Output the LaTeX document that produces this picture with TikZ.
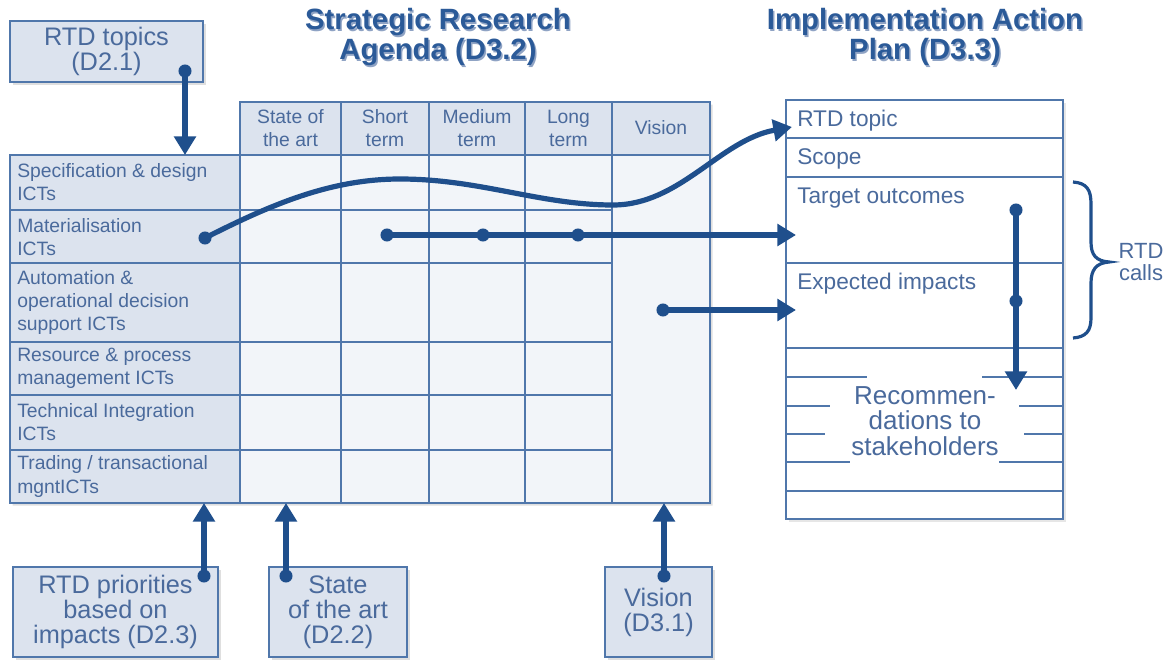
\documentclass[tikz,border=0pt]{standalone}
\usepackage{fontspec}
\setmainfont{Liberation Sans}
\usetikzlibrary{arrows.meta,shadows}
\definecolor{framec}{HTML}{5077AB}
\definecolor{headfill}{HTML}{DCE3EE}
\definecolor{cellfill}{HTML}{F2F5F9}
\definecolor{txtc}{HTML}{4A6A9C}
\definecolor{arrowc}{HTML}{1F4F8C}
\definecolor{titlec}{HTML}{2B5A98}
\definecolor{shadec}{HTML}{8FA3C4}
\begin{document}
\begin{tikzpicture}[x=0.75pt,y=-0.75pt,
  grid/.style={draw=framec,line width=1.6pt},
  plan/.style={draw=framec,line width=2pt},
  lbl/.style={text=txtc,font=\fontsize{14.5}{17.3}\selectfont,align=left,inner sep=0pt},
  hdr/.style={text=txtc,font=\fontsize{14.5}{17.3}\selectfont,align=center,inner sep=0pt},
  plantxt/.style={text=txtc,font=\fontsize{17}{19}\selectfont,anchor=west,inner sep=0pt},
  rectxt/.style={text=txtc,font=\fontsize{19.5}{19}\selectfont,align=center,inner sep=0pt},
  srcbox/.style={draw=framec,line width=1.8pt,fill=headfill,text=txtc,
    font=\fontsize{19}{18.7}\selectfont,align=center,inner sep=0pt,
    drop shadow={opacity=0.25,shadow xshift=2pt,shadow yshift=-2pt}},
  titletxt/.style={font=\bfseries\fontsize{22}{22.5}\selectfont,align=center,inner sep=0pt},
  flow/.style={draw=arrowc,line width=3.9pt,-{Triangle[length=14pt,width=16pt]}},
  brace/.style={draw=arrowc,line width=2.4pt},
]
\useasboundingbox (0,0) rectangle (1168,660);

% ---------- titles ----------
\node[titletxt,text=shadec] (sraShade) at (439.5,38.5) {Strategic Research\\Agenda (D3.2)};
\node[titletxt,text=titlec] (sraTitle) at (438,37) {Strategic Research\\Agenda (D3.2)};
\node[titletxt,text=shadec] (iapShade) at (926.5,38.5) {Implementation Action\\Plan (D3.3)};
\node[titletxt,text=titlec] (iapTitle) at (925,37) {Implementation Action\\Plan (D3.3)};

% ---------- research agenda table ----------
\path[fill=cellfill,drop shadow={opacity=0.25,shadow xshift=2pt,shadow yshift=-2pt}]
  (10,155) -- (240,155) -- (240,102) -- (710,102) -- (710,503) -- (10,503) -- cycle;
\fill[headfill] (10,155) rectangle (240,503);
\fill[headfill] (240,102) rectangle (710,155);
\draw[grid] (10,155) -- (240,155) -- (240,102) -- (710,102) -- (710,503) -- (10,503) -- cycle;
\draw[grid] (240,155) -- (710,155);
\foreach \x in {240,341,429,525,612} \draw[grid] (\x,102) -- (\x,503);
\foreach \y in {210,263,342,395,450} \draw[grid] (10,\y) -- (612,\y);

\node[hdr] (hState) at (290.5,128) {State of\\the art};
\node[hdr] (hShort) at (385,128) {Short\\term};
\node[hdr] (hMedium) at (477,128) {Medium\\term};
\node[hdr] (hLong) at (568.5,128) {Long\\term};
\node[hdr] (hVision) at (661,128) {Vision};

\node[lbl,anchor=west] (r1) at (17,182.5) {Specification \& design\\ICTs};
\node[lbl,anchor=west] (r2) at (17,237) {Materialisation\\ICTs};
\node[lbl,anchor=west] (r3) at (17,302.5) {Automation \&\\operational decision\\support ICTs};
\node[lbl,anchor=west] (r4) at (17,368.5) {Resource \& process\\management ICTs};
\node[lbl,anchor=west] (r5) at (17,422.5) {Technical Integration\\ICTs};
\node[lbl,anchor=west] (r6) at (17,476.5) {Trading / transactional\\mgntICTs};

% ---------- implementation action plan ----------
\fill[white,drop shadow={opacity=0.2,shadow xshift=2pt,shadow yshift=-2pt}] (786,100) rectangle (1063,519);
\draw[plan] (786,100) rectangle (1063,519);
\foreach \y in {138,177,263,348,491} \draw[plan] (786,\y) -- (1063,\y);
\draw[plan] (786,377) -- (867,377) (982,377) -- (1063,377);
\draw[plan] (786,406) -- (830,406) (1019,406) -- (1063,406);
\draw[plan] (786,434) -- (825,434) (1024,434) -- (1063,434);
\draw[plan] (786,462) -- (850,462) (999,462) -- (1063,462);

\node[plantxt] (pTopic) at (797,121) {RTD topic};
\node[plantxt] (pScope) at (797,159) {Scope};
\node[plantxt] (pTarget) at (797,198) {Target outcomes};
\node[plantxt] (pImpact) at (797,284) {Expected impacts};
\node[rectxt] (pRec) at (925,421) {Recommen-\\dations to\\stakeholders};

\draw[brace] (1073,182) .. controls (1087,183) and (1091,190) .. (1091,204)
  -- (1091,242) .. controls (1091,255) and (1096,261) .. (1109,262)
  .. controls (1096,263) and (1091,270) .. (1091,283)
  -- (1091,318) .. controls (1091,331) and (1086,337) .. (1073,338);
\node[text=txtc,font=\fontsize{16.5}{16.5}\selectfont,align=center,inner sep=0pt] (calls) at (1141,262) {RTD\\calls};

% ---------- source deliverables ----------
\node[srcbox,minimum width=144.75pt,minimum height=45.75pt] (topics) at (106.5,51.5) {RTD topics\\(D2.1)};
\node[srcbox,minimum width=153.75pt,minimum height=67.5pt] (prio) at (115.5,612) {RTD priorities\\based on\\impacts (D2.3)};
\node[srcbox,minimum width=103.5pt,minimum height=67.5pt] (sota) at (338,612) {State\\of the art\\(D2.2)};
\node[srcbox,minimum width=80.25pt,minimum height=67.5pt] (vision) at (658.5,612) {Vision\\(D3.1)};

% ---------- connectors ----------
\coordinate (topicsDot) at (185,71);   \coordinate (tableTop) at (185,155);
\coordinate (prioDot) at (204,576);    \coordinate (prioIn) at (204,503);
\coordinate (sotaDot) at (286,576);    \coordinate (sotaIn) at (286,503);
\coordinate (visionDot) at (664,576);  \coordinate (visionIn) at (664,503);
\coordinate (matDot) at (205,238);     \coordinate (topicIn) at (792,127);
\coordinate (shortDot) at (387,235);   \coordinate (mediumDot) at (483,235);
\coordinate (longDot) at (578,235);    \coordinate (targetIn) at (796,235);
\coordinate (visCellDot) at (663,310); \coordinate (impactIn) at (796,310);
\coordinate (targetDot) at (1016,210); \coordinate (impactDot) at (1016,301);
\coordinate (recIn) at (1016,390);

\draw[flow] (topicsDot) -- (tableTop);
\draw[flow] (prioDot) -- (prioIn);
\draw[flow] (sotaDot) -- (sotaIn);
\draw[flow] (visionDot) -- (visionIn);
\draw[flow] (matDot) .. controls (270,205) and (330,179) .. (400,179)
  .. controls (480,179) and (540,205) .. (613,205)
  .. controls (680,205) and (720,140) .. (topicIn);
\draw[flow] (shortDot) -- (targetIn);
\draw[flow] (visCellDot) -- (impactIn);
\draw[flow] (targetDot) -- (recIn);

\foreach \d in {topicsDot,prioDot,sotaDot,visionDot,matDot,shortDot,mediumDot,longDot,visCellDot,targetDot,impactDot}
  \fill[arrowc] (\d) circle (4.9pt);
\end{tikzpicture}
\end{document}
